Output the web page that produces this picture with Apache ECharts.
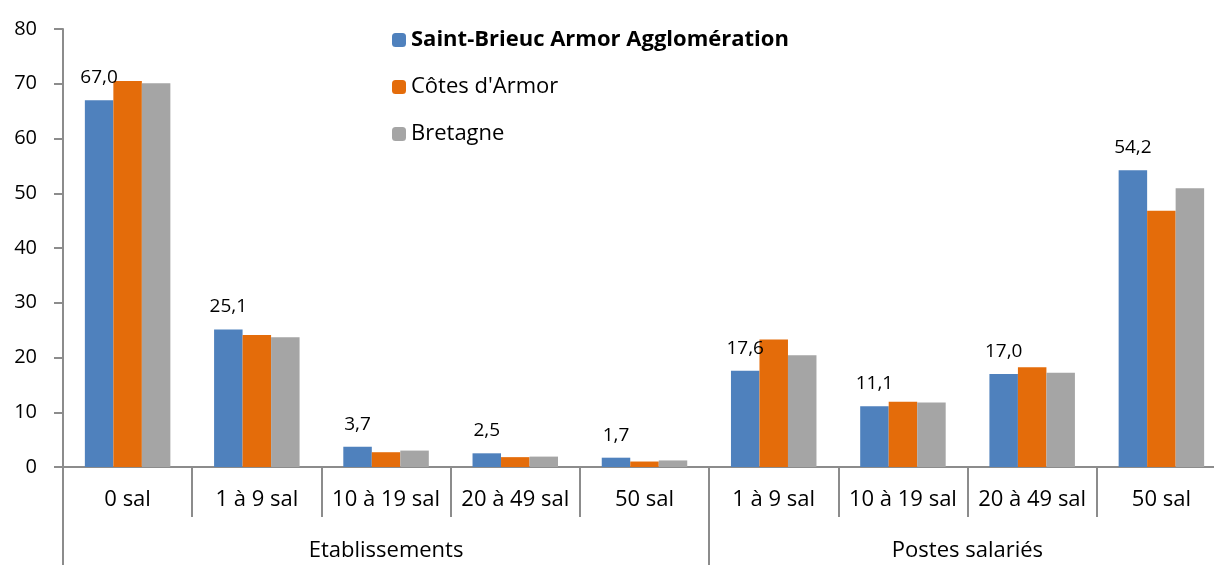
<!DOCTYPE html>
<html>
<head>
<meta charset="utf-8">
<script src="https://cdn.jsdelivr.net/npm/echarts@6/dist/echarts.min.js"></script>
<style>
  html, body { margin: 0; padding: 0; background: #fff; }
  #chart { width: 1214px; height: 565px; }
</style>
</head>
<body>
<div id="chart"></div>
<script>
// données
const categories = ['0 sal', '1 à 9 sal', '10 à 19 sal', '20 à 49 sal', '50 sal',
  '1 à 9 sal', '10 à 19 sal', '20 à 49 sal', '50 sal'];
const groups = ['Etablissements', 'Postes salariés'];
const groupStart = [0, 5];

const seriesNames = ['Saint-Brieuc Armor Agglomération', "Côtes d'Armor", 'Bretagne'];
const saintBrieuc = [67.0, 25.1, 3.7, 2.5, 1.7, 17.6, 11.1, 17.0, 54.2];
const cotesArmor = [70.5, 24.1, 2.7, 1.8, 1.0, 23.3, 11.9, 18.2, 46.8];
const bretagne = [70.1, 23.7, 3.0, 1.9, 1.2, 20.4, 11.8, 17.2, 50.9];
const colors = ['#4F81BD', '#E46C0A', '#A5A5A5'];

const font = '"Open Sans", "Noto Sans", sans-serif';
const axisGrey = '#8c8c8c';

const chart = echarts.init(document.getElementById('chart'));

function fmt(v) {
  return v.toFixed(1).replace('.', ',');
}

chart.setOption({
  animation: false,
  textStyle: { fontFamily: font },
  legend: {
    orient: 'vertical',
    left: 387,
    top: 23,
    itemWidth: 14,
    itemHeight: 14,
    itemGap: 23,
    data: seriesNames,
    textStyle: {
      fontFamily: font,
      fontSize: 22,
      lineHeight: 24,
      color: '#000',
      rich: {
        b: { fontFamily: font, fontSize: 22, fontWeight: 'bold', color: '#000', lineHeight: 24 }
      }
    },
    formatter: function (name) {
      return name === seriesNames[0] ? '{b|' + name + '}' : name;
    }
  },
  grid: { left: 63, top: 29, width: 1163, height: 438, outerBoundsMode: 'none' },
  xAxis: [{
    type: 'category',
    data: categories,
    axisLine: { lineStyle: { color: axisGrey, width: 2 } },
    axisTick: { show: true, interval: 0, length: 50, lineStyle: { color: axisGrey, width: 2 } },
    axisLabel: { fontFamily: font, fontSize: 22, color: '#000', margin: 22, interval: 0 }
  }, {
    type: 'category',
    data: categories,
    position: 'bottom',
    axisLine: { show: false },
    axisTick: {
      show: true,
      length: 100,
      lineStyle: { color: axisGrey, width: 2 },
      interval: function (index) { return groupStart.indexOf(index) >= 0; }
    },
    axisLabel: {
      fontFamily: font,
      fontSize: 22,
      color: '#000',
      margin: 73,
      interval: function (index) { return index === 2 || index === 6; },
      formatter: function (value, index) {
        if (index === 2) return groups[0];
        if (index === 6) return '{p|' + groups[1] + '}';
        return '';
      },
      rich: {
        p: { fontFamily: font, fontSize: 22, color: '#000', padding: [0, 0, 0, 129] }
      }
    }
  }],
  yAxis: {
    type: 'value',
    min: 0,
    max: 80,
    interval: 10,
    splitLine: { show: false },
    axisLine: { show: true, lineStyle: { color: axisGrey, width: 2 } },
    axisTick: { show: true, length: 9, lineStyle: { color: axisGrey, width: 2 } },
    axisLabel: { fontFamily: font, fontSize: 20, color: '#000', margin: 26 }
  },
  series: [{
    name: seriesNames[0],
    type: 'bar',
    data: saintBrieuc,
    barWidth: 28.5,
    barGap: '0%',
    itemStyle: { color: colors[0] },
    label: {
      show: true,
      position: 'top',
      distance: 13,
      fontFamily: font,
      fontSize: 19,
      color: '#000',
      formatter: function (p) { return fmt(p.value); }
    }
  }, {
    name: seriesNames[1],
    type: 'bar',
    data: cotesArmor,
    barWidth: 28.5,
    barGap: '0%',
    itemStyle: { color: colors[1] }
  }, {
    name: seriesNames[2],
    type: 'bar',
    data: bretagne,
    barWidth: 28.5,
    barGap: '0%',
    itemStyle: { color: colors[2] }
  }]
});
</script>
</body>
</html>
